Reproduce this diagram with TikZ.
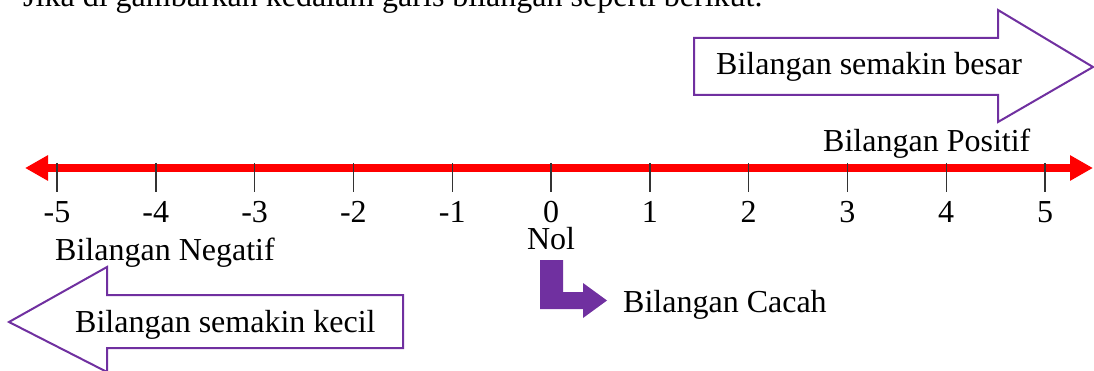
\documentclass[tikz,border=0pt]{standalone}
\usepackage{fontspec}
\setmainfont{Liberation Serif}
\usetikzlibrary{arrows.meta}
\definecolor{lineRed}{HTML}{FF0000}
\definecolor{purp}{HTML}{7030A0}
\begin{document}
\begin{tikzpicture}[x=1pt,y=-1pt,
  lbl/.style={inner sep=0pt,font=\fontsize{32}{38}\selectfont},
  tickmark/.style={draw=black!80,line width=1.4pt},
  hollow/.style={draw=purp,line width=2pt,fill=white,line join=miter},
  numline/.style={draw=lineRed,line width=8pt,{Triangle[length=23pt,width=24pt]}-{Triangle[length=23pt,width=24pt]}}]
\useasboundingbox (0,0) rectangle (1094,371);
\clip (0,0) rectangle (1094,371);
% cut-off line of text at the top
\node[lbl,anchor=base west] (intro) at (23,7) {Jika di gambarkan kedalam garis bilangan seperti berikut.};
% number line
\coordinate (L) at (25,168);
\coordinate (R) at (1093,168);
\draw[numline] (L) -- (R);
\foreach \n [count=\i from 0] in {-5,-4,-3,-2,-1,0,1,2,3,4,5}{
  \coordinate (t\i) at ({57+98.8*\i},163);
  \draw[tickmark] (t\i) -- ++(0,29);
  \node[lbl,anchor=base] (n\i) at ({57+98.8*\i},223) {\n};
}
% labels
\node[lbl,anchor=base west] (pos) at (823,152) {Bilangan Positif};
\node[lbl,anchor=base west] (neg) at (55,261) {Bilangan Negatif};
\node[lbl,anchor=base] (nol) at (551,250) {Nol};
% top-right hollow arrow
\draw[hollow] (694,38) -- (998,38) -- (998,10) -- (1093,67) -- (998,122) -- (998,95) -- (694,95) -- cycle;
\node[lbl,anchor=base west] (big) at (716,75) {Bilangan semakin besar};
% bottom-left hollow arrow
\draw[hollow] (403,295) -- (107,295) -- (107,267) -- (9,322) -- (107,372) -- (107,348) -- (403,348) -- cycle;
\node[lbl,anchor=base west] (small) at (75,332) {Bilangan semakin kecil};
% L-shaped filled arrow
\fill[purp] (540,260) -- (563,260) -- (563,292) -- (583,292) -- (583,283) -- (607,300.5) -- (583,318) -- (583,309) -- (540,309) -- cycle;
\node[lbl,anchor=base west] (cacah) at (623,312) {Bilangan Cacah};
\end{tikzpicture}
\end{document}
